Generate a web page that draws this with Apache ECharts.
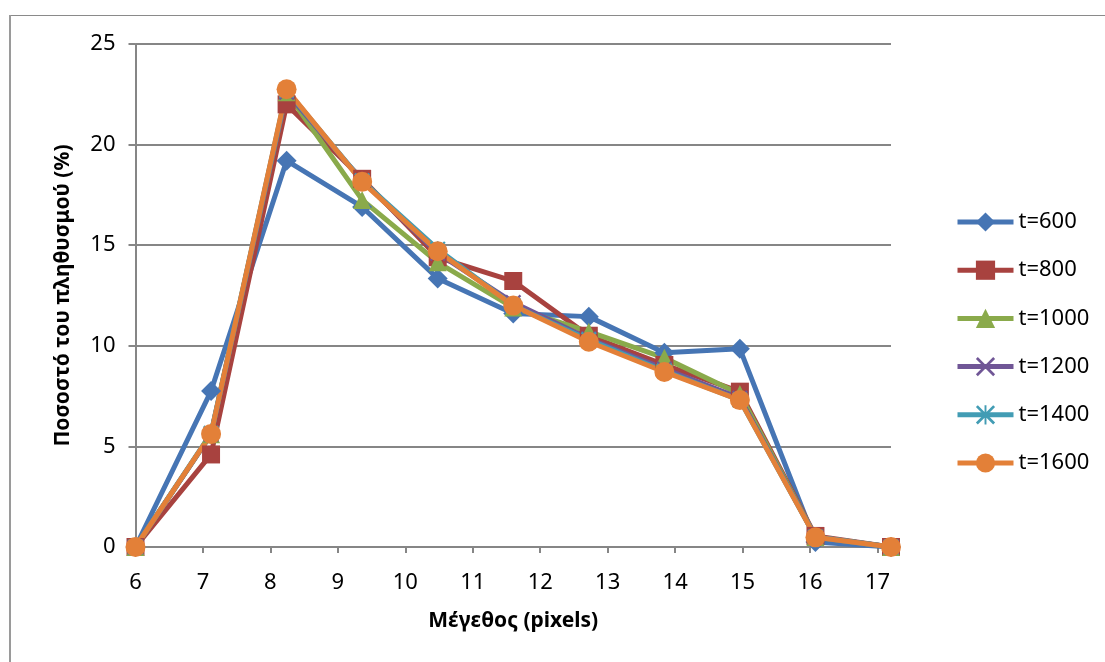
<!DOCTYPE html>
<html>
<head>
<meta charset="utf-8">
<script src="https://cdn.jsdelivr.net/npm/echarts@6/dist/echarts.min.js"></script>
<style>
  html, body { margin: 0; padding: 0; background: #ffffff; }
  #chart { width: 1105px; height: 662px; }
</style>
</head>
<body>
<div id="chart"></div>
<script>
// Data
const sizes = [6, 7.12, 8.24, 9.36, 10.48, 11.6, 12.72, 13.84, 14.96, 16.08, 17.2];
const xTickValues = [6, 7, 8, 9, 10, 11, 12, 13, 14, 15, 16, 17];
const seriesNames = ['t=600', 't=800', 't=1000', 't=1200', 't=1400', 't=1600'];
const t600  = [0, 7.75, 19.2, 16.9, 13.35, 11.6, 11.45, 9.65, 9.85, 0.25, 0];
const t800  = [0, 4.6, 22.0, 18.3, 14.4, 13.22, 10.5, 9.05, 7.72, 0.55, 0];
const t1000 = [0, 5.6, 22.6, 17.25, 14.15, 11.9, 10.7, 9.4, 7.6, 0.5, 0];
const t1200 = [0, 5.6, 22.6, 18.2, 14.6, 12.15, 10.35, 8.85, 7.4, 0.5, 0];
const t1400 = [0, 5.65, 22.7, 18.2, 14.8, 12.0, 10.3, 8.75, 7.3, 0.5, 0];
const t1600 = [0, 5.62, 22.75, 18.15, 14.7, 12.0, 10.2, 8.7, 7.3, 0.48, 0];
const allValues = [t600, t800, t1000, t1200, t1400, t1600];

const colors = ['#4675B4', '#A8423F', '#8AAA4B', '#705696', '#429CB4', '#E38038'];
const xMark = 'path://M1,0L5,4L9,0L10,1L6,5L10,9L9,10L5,6L1,10L0,9L4,5L0,1Z';
const starMark = 'path://M1,0L4.5,3.5L4.5,0L5.5,0L5.5,3.5L9,0L10,1L6,5L10,9L9,10L5.5,6.5L5.5,10L4.5,10L4.5,6.5L1,10L0,9L4,5L0,1Z';
const symbols = ['diamond', 'rect', 'triangle', xMark, starMark, 'circle'];
const symbolSizes = [20, 18, 18, 16, 16, 20];

const FONT = "'Noto Sans', 'DejaVu Sans', sans-serif";

const chart = echarts.init(document.getElementById('chart'), null, { renderer: 'canvas' });

const series = seriesNames.map((name, i) => ({
  name: name,
  type: 'line',
  data: sizes.map((x, k) => [x, allValues[i][k]]),
  symbol: symbols[i],
  symbolSize: symbolSizes[i],
  showAllSymbol: true,
  clip: false,
  lineStyle: { color: colors[i], width: 5 },
  itemStyle: { color: colors[i], borderWidth: 0 },
  emphasis: { disabled: true },
  animation: false
}));

chart.setOption({
  animation: false,
  color: colors,
  textStyle: { fontFamily: FONT },
  grid: { left: 135.5, right: 214, top: 44, bottom: 115, containLabel: false },
  xAxis: {
    type: 'value',
    min: 6,
    max: 17.2,
    interval: 1,
    name: 'Μέγεθος (pixels)',
    nameLocation: 'middle',
    nameGap: 64,
    nameTextStyle: { fontFamily: FONT, fontSize: 21, fontWeight: 'bold', color: '#000' },
    axisLine: { show: true, lineStyle: { color: '#868686', width: 2 } },
    axisTick: { show: true, length: 6, lineStyle: { color: '#868686', width: 2 }, customValues: xTickValues },
    axisLabel: { fontFamily: FONT, fontSize: 22, color: '#000', margin: 25, customValues: xTickValues },
    splitLine: { show: false }
  },
  yAxis: {
    type: 'value',
    min: 0,
    max: 25,
    interval: 5,
    name: 'Ποσοστό του πληθυσμού (%)',
    nameLocation: 'middle',
    nameGap: 62,
    nameRotate: 90,
    nameTextStyle: { fontFamily: FONT, fontSize: 21, fontWeight: 'bold', color: '#000' },
    axisLine: { show: true, lineStyle: { color: '#868686', width: 2 } },
    axisTick: { show: true, length: 7, lineStyle: { color: '#868686', width: 2 } },
    axisLabel: { fontFamily: FONT, fontSize: 22, color: '#000', margin: 20 },
    splitLine: { show: true, lineStyle: { color: '#868686', width: 2 } }
  },
  legend: {
    orient: 'vertical',
    left: 955,
    top: 210,
    padding: 0,
    itemWidth: 56,
    itemHeight: 24,
    itemGap: 24.2,
    lineStyle: { width: 5 },
    textStyle: { fontFamily: FONT, fontSize: 22, color: '#000', lineHeight: 24 },
    data: seriesNames
  },
  graphic: [
    { type: 'line', shape: { x1: 9, y1: 15.5, x2: 1105, y2: 15.5 }, style: { stroke: '#8a8a8a', lineWidth: 1 }, silent: true },
    { type: 'line', shape: { x1: 10, y1: 15, x2: 10, y2: 662 }, style: { stroke: '#9a9a9a', lineWidth: 2 }, silent: true }
  ],
  series: series
});
</script>
</body>
</html>
